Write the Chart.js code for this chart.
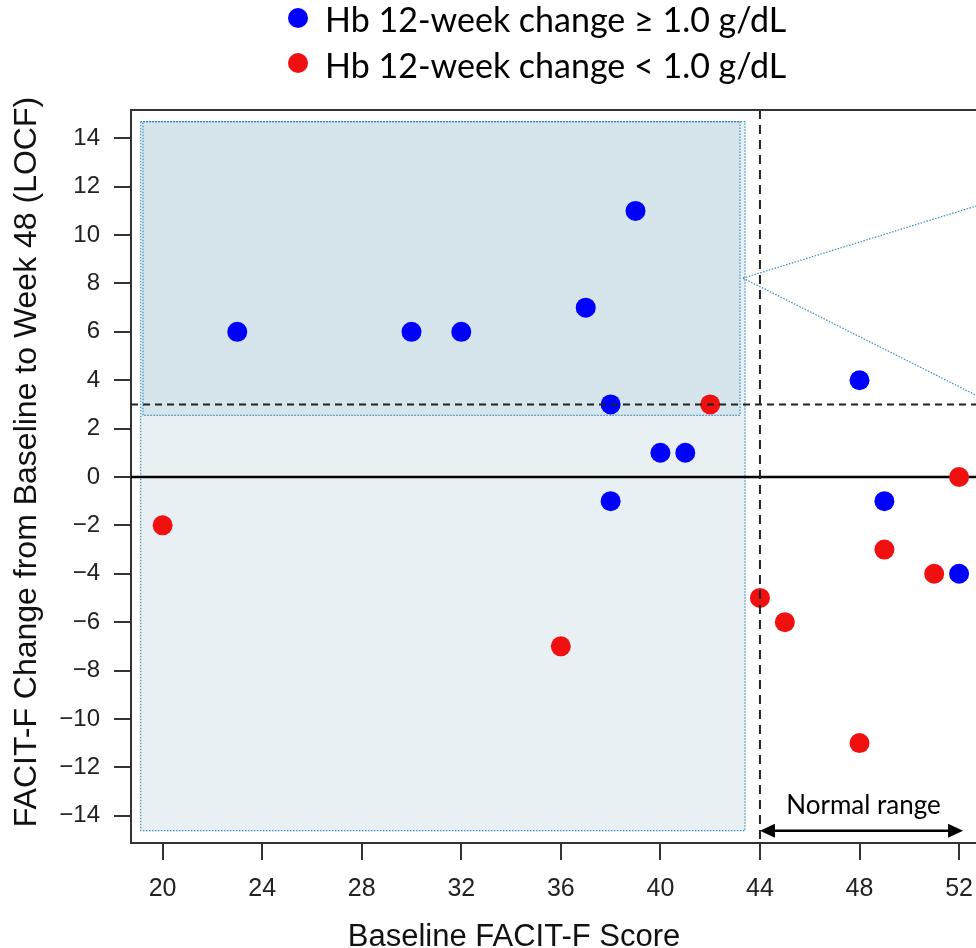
<!DOCTYPE html>
<html>
<head>
<meta charset="utf-8">
<script src="https://cdn.jsdelivr.net/npm/chart.js@4.4.1/dist/chart.umd.min.js"></script>
<style>
  body { margin: 0; background: #fff; }
  #wrap { width: 976px; height: 948px; }
</style>
</head>
<body>
<div id="wrap"><canvas id="chart" width="976" height="948"></canvas></div>
<script>
// --- data ---
const blueX = [23, 30, 32, 37, 38, 38, 39, 40, 41, 48, 49, 52];
const blueY = [6, 6, 6, 7, 3, -1, 11, 1, 1, 4, -1, -4];
const redX = [20, 36, 42, 44, 45, 48, 49, 51, 52];
const redY = [-2, -7, 3, -5, -6, -11, -3, -4, 0];

const xTicks = [20, 24, 28, 32, 36, 40, 44, 48, 52];
const yTicks = [-14, -12, -10, -8, -6, -4, -2, 0, 2, 4, 6, 8, 10, 12, 14];

const legendLabels = ['Hb 12-week change \u2265 1.0 g/dL', 'Hb 12-week change < 1.0 g/dL'];
const xTitle = 'Baseline FACIT-F Score';
const yTitle = 'FACIT-F Change from Baseline to Week 48 (LOCF)';
const rangeLabel = 'Normal range';

// reference lines
const normalCut = 44;
const mcidCut = 3;

const BLUE = '#0000ff';
const RED = '#f01010';
const DOT = '#3a8bbd';

function toPoints(xs, ys) {
    return xs.map((x, i) => ({ x: x, y: ys[i] }));
}

// shaded regions, zoom connector and arrow (data coords)
const overlay = {
    outer: { x0: 19.12, x1: 43.40, y0: -14.62, y1: 14.69 },
    inner: { x0: 19.21, x1: 43.20, y0: 2.55, y1: 14.69 },
    zoomFrom: { x: 43.32, y: 8.22 },
    zoomTo: [11.2, 3.38],
    arrow: { x0: 44, x1: 52.16, y: -14.62 }
};

const decorPlugin = {
    id: 'decor',
    beforeDatasetsDraw(chart) {
        const { ctx, chartArea: a, scales: { x, y } } = chart;
        ctx.save();
        ctx.beginPath();
        ctx.rect(a.left, a.top, a.right - a.left, a.bottom - a.top);
        ctx.clip();

        // light region
        const o = overlay.outer;
        const ox0 = x.getPixelForValue(o.x0), ox1 = x.getPixelForValue(o.x1);
        const oy0 = y.getPixelForValue(o.y1), oy1 = y.getPixelForValue(o.y0);
        ctx.fillStyle = '#e8f0f4';
        ctx.fillRect(ox0, oy0, ox1 - ox0, oy1 - oy0);

        // darker upper region
        const n = overlay.inner;
        const nx0 = x.getPixelForValue(n.x0), nx1 = x.getPixelForValue(n.x1);
        const ny0 = y.getPixelForValue(n.y1), ny1 = y.getPixelForValue(n.y0);
        ctx.fillStyle = '#d6e4ec';
        ctx.fillRect(nx0, ny0, nx1 - nx0, ny1 - ny0);

        ctx.strokeStyle = DOT;
        ctx.lineWidth = 1.2;
        ctx.setLineDash([1.5, 1.5]);
        ctx.strokeRect(ox0, oy0, ox1 - ox0, oy1 - oy0);
        ctx.strokeRect(nx0, ny0, nx1 - nx0, ny1 - ny0);

        // zoom connector lines
        const fx = x.getPixelForValue(overlay.zoomFrom.x), fy = y.getPixelForValue(overlay.zoomFrom.y);
        overlay.zoomTo.forEach(v => {
            ctx.beginPath();
            ctx.moveTo(fx, fy);
            ctx.lineTo(a.right, y.getPixelForValue(v));
            ctx.stroke();
        });
        ctx.setLineDash([]);

        // zero line
        const y0 = y.getPixelForValue(0);
        ctx.strokeStyle = '#000';
        ctx.lineWidth = 2.5;
        ctx.beginPath();
        ctx.moveTo(a.left, y0);
        ctx.lineTo(a.right, y0);
        ctx.stroke();

        // normal range arrow
        const ar = overlay.arrow;
        const ax0 = x.getPixelForValue(ar.x0), ax1 = x.getPixelForValue(ar.x1), ay = y.getPixelForValue(ar.y);
        ctx.lineWidth = 2.5;
        ctx.beginPath();
        ctx.moveTo(ax0 + 10, ay);
        ctx.lineTo(ax1 - 10, ay);
        ctx.stroke();
        ctx.fillStyle = '#000';
        ctx.beginPath();
        ctx.moveTo(ax0, ay); ctx.lineTo(ax0 + 15, ay - 7); ctx.lineTo(ax0 + 15, ay + 7); ctx.closePath();
        ctx.fill();
        ctx.beginPath();
        ctx.moveTo(ax1, ay); ctx.lineTo(ax1 - 15, ay - 7); ctx.lineTo(ax1 - 15, ay + 7); ctx.closePath();
        ctx.fill();
        ctx.font = '26px Lato, "Open Sans", sans-serif';
        ctx.textAlign = 'center';
        ctx.textBaseline = 'alphabetic';
        ctx.fillText(rangeLabel, (ax0 + ax1) / 2 + 2, ay - 17);
        ctx.restore();
    },
    afterDatasetsDraw(chart) {
        const { ctx, chartArea: a, scales: { x, y } } = chart;
        ctx.save();
        ctx.strokeStyle = '#222';
        ctx.lineWidth = 2;
        ctx.setLineDash([7, 5]);
        const ym = y.getPixelForValue(mcidCut);
        ctx.beginPath();
        ctx.moveTo(a.left, ym);
        ctx.lineTo(a.right, ym);
        ctx.stroke();
        const xn = x.getPixelForValue(normalCut);
        ctx.setLineDash([9, 6]);
        ctx.beginPath();
        ctx.moveTo(xn, a.top);
        ctx.lineTo(xn, a.bottom);
        ctx.stroke();
        ctx.setLineDash([]);

        // top border of the box
        ctx.strokeStyle = '#333';
        ctx.lineWidth = 2;
        ctx.beginPath();
        ctx.moveTo(a.left, a.top);
        ctx.lineTo(a.right, a.top);
        ctx.stroke();

        // axis titles
        ctx.fillStyle = '#111';
        ctx.font = '31px "Liberation Sans", Arial, sans-serif';
        ctx.textAlign = 'center';
        ctx.textBaseline = 'alphabetic';
        ctx.fillText(xTitle, 514, 946);
        ctx.font = '32px "Liberation Sans", Arial, sans-serif';
        ctx.translate(36, 462);
        ctx.rotate(-Math.PI / 2);
        ctx.fillText(yTitle, 0, 0);
        ctx.restore();

        // legend
        ctx.save();
        ctx.font = '34px Lato, "Open Sans", sans-serif';
        ctx.textAlign = 'left';
        ctx.textBaseline = 'alphabetic';
        [[BLUE, 18, 32], [RED, 63, 78]].forEach((row, i) => {
            ctx.fillStyle = row[0];
            ctx.beginPath();
            ctx.arc(298, row[1], 10, 0, Math.PI * 2);
            ctx.fill();
            ctx.fillStyle = '#000';
            ctx.fillText(legendLabels[i], 325, row[2]);
        });
        ctx.restore();
    }
};

const axisCommon = {
    type: 'linear',
    grid: { drawOnChartArea: false, drawTicks: true, tickLength: 17, color: '#333', lineWidth: 2 },
    border: { display: true, color: '#333', width: 2 }
};

new Chart(document.getElementById('chart'), {
    type: 'scatter',
    data: {
        datasets: [
            { label: legendLabels[0], data: toPoints(blueX, blueY), backgroundColor: BLUE, borderWidth: 0, pointRadius: 10, clip: false },
            { label: legendLabels[1], data: toPoints(redX, redY), backgroundColor: RED, borderWidth: 0, pointRadius: 10, clip: false }
        ]
    },
    options: {
        responsive: false,
        animation: false,
        events: [],
        layout: { autoPadding: false, padding: { top: 110, left: 0, right: 0, bottom: 0 } },
        plugins: { legend: { display: false }, tooltip: { enabled: false } },
        scales: {
            x: {
                ...axisCommon,
                position: 'bottom',
                min: 18.73,
                max: 52.68,
                afterBuildTicks: s => { s.ticks = xTicks.map(v => ({ value: v })); },
                afterFit: s => { s.height = 105; s.paddingLeft = 0; s.paddingRight = 0; },
                ticks: { color: '#222', padding: 14, font: { family: '"Liberation Sans", Arial, sans-serif', size: 25 } }
            },
            y: {
                ...axisCommon,
                position: 'left',
                min: -15.13,
                max: 15.17,
                afterBuildTicks: s => { s.ticks = yTicks.map(v => ({ value: v })); },
                afterFit: s => { s.width = 131; s.paddingTop = 0; s.paddingBottom = 0; },
                ticks: {
                    color: '#222', padding: 14,
                    font: { family: '"Liberation Sans", Arial, sans-serif', size: 24 },
                    callback: v => String(v).replace('-', '\u2212')
                }
            }
        }
    },
    plugins: [decorPlugin]
});
</script>
</body>
</html>
